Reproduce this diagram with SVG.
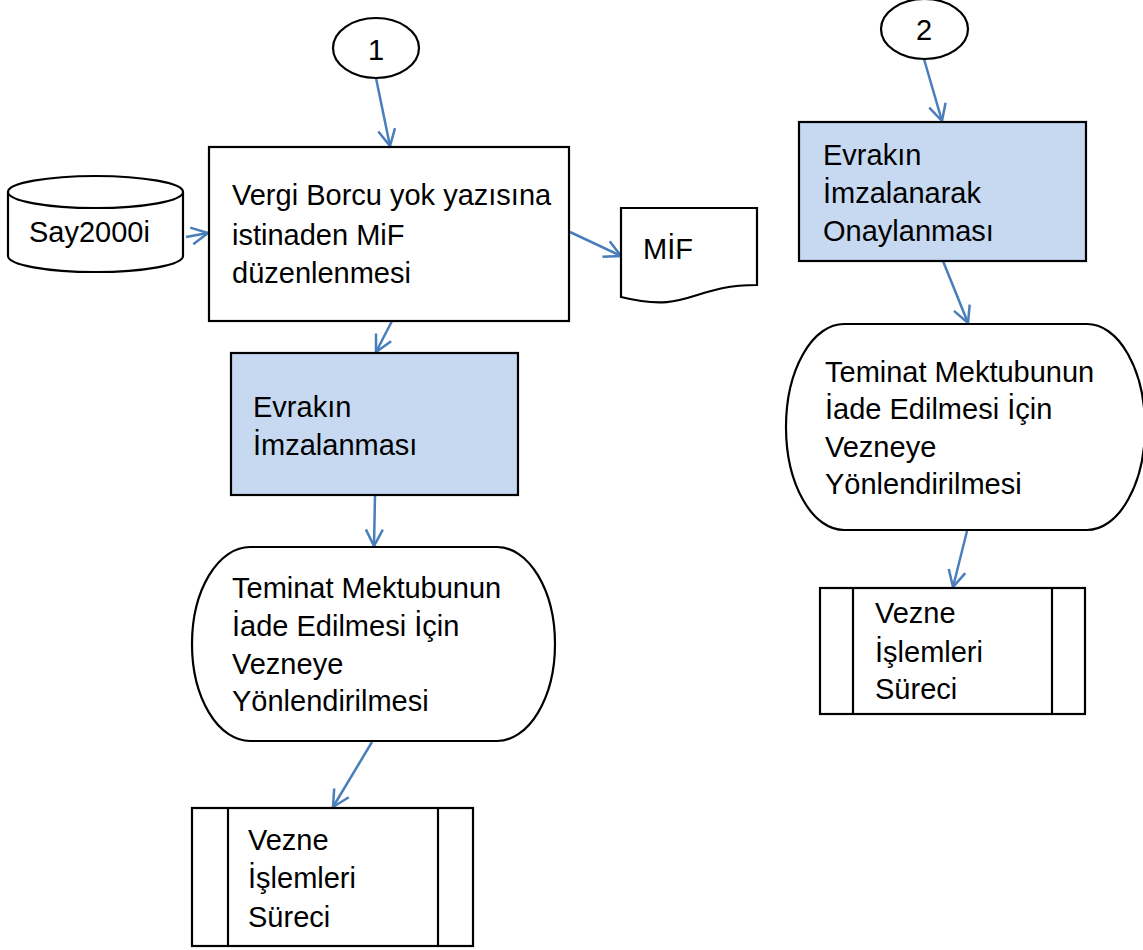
<svg xmlns="http://www.w3.org/2000/svg" width="1143" height="950" viewBox="0 0 1143 950">
<defs>
<style>
.s{fill:#fff;stroke:#000;stroke-width:2.2}
.b{fill:#c6d9f1;stroke:#000;stroke-width:2.2}
.t{font-family:"Liberation Sans",Arial,sans-serif;font-size:29px;fill:#000}
.c{fill:none;stroke:#4a7ebb;stroke-width:2.5}
</style>
<marker id="ah" viewBox="0 0 19 20" refX="17.5" refY="10" markerWidth="19" markerHeight="20" markerUnits="userSpaceOnUse" orient="auto">
<path d="M1,1.5 L17.5,10 L1,18.5" fill="none" stroke="#4a7ebb" stroke-width="2.5"/>
</marker>
</defs>
<rect width="1143" height="950" fill="#fff"/>

<g id="connectors">
<line class="c" x1="376" y1="78" x2="390" y2="146" marker-end="url(#ah)"/>
<line class="c" x1="186" y1="237" x2="208" y2="233" marker-end="url(#ah)"/>
<line class="c" x1="570" y1="232" x2="621" y2="256" marker-end="url(#ah)"/>
<line class="c" x1="392" y1="321" x2="376" y2="352" marker-end="url(#ah)"/>
<line class="c" x1="375" y1="496" x2="374" y2="546" marker-end="url(#ah)"/>
<line class="c" x1="372" y1="742" x2="333" y2="807" marker-end="url(#ah)"/>
<line class="c" x1="924" y1="59" x2="942" y2="121" marker-end="url(#ah)"/>
<line class="c" x1="943" y1="261" x2="968" y2="323" marker-end="url(#ah)"/>
<line class="c" x1="967" y1="531" x2="953" y2="587" marker-end="url(#ah)"/>
</g>

<g id="start1">
<ellipse class="s" cx="376" cy="48" rx="43" ry="30"/>
<text class="t" x="376" y="60" text-anchor="middle">1</text>
</g>

<g id="say2000i">
<path class="s" d="M8,192 A87.5,16 0 0 1 183,192 V256 A87.5,16 0 0 1 8,256 Z"/>
<path class="s" d="M8,192 A87.5,16 0 0 0 183,192" fill="none"/>
<text class="t" x="29" y="242">Say2000i</text>
</g>

<g id="mif-duzenle">
<rect class="s" x="209" y="147" width="360" height="174"/>
<text class="t" x="232" y="205">Vergi Borcu yok yazısına</text>
<text class="t" x="232" y="245">istinaden MiF</text>
<text class="t" x="232" y="283">düzenlenmesi</text>
</g>

<g id="mif-doc">
<path class="s" d="M621,208 H757 V285 C690,285 690,314 621,297 Z"/>
<text class="t" x="643" y="259">MİF</text>
</g>

<g id="imzalanmasi">
<rect class="b" x="231" y="353" width="287" height="142"/>
<text class="t" x="253" y="417">Evrakın</text>
<text class="t" x="253" y="455">İmzalanması</text>
</g>

<g id="terminator1">
<rect class="s" x="192" y="547" width="363" height="194" rx="58" ry="97"/>
<text class="t" x="232" y="598">Teminat Mektubunun</text>
<text class="t" x="232" y="636">İade Edilmesi İçin</text>
<text class="t" x="232" y="674">Vezneye</text>
<text class="t" x="232" y="711">Yönlendirilmesi</text>
</g>

<g id="vezne1">
<rect class="s" x="192" y="808" width="281" height="138"/>
<line class="s" x1="228" y1="808" x2="228" y2="946"/>
<line class="s" x1="438" y1="808" x2="438" y2="946"/>
<text class="t" x="248" y="850">Vezne</text>
<text class="t" x="248" y="888">İşlemleri</text>
<text class="t" x="248" y="927">Süreci</text>
</g>

<g id="start2">
<ellipse class="s" cx="924.5" cy="29" rx="43.5" ry="30"/>
<text class="t" x="924" y="40" text-anchor="middle">2</text>
</g>

<g id="onaylanmasi">
<rect class="b" x="799" y="122" width="287" height="139"/>
<text class="t" x="823" y="165">Evrakın</text>
<text class="t" x="823" y="203">İmzalanarak</text>
<text class="t" x="823" y="241">Onaylanması</text>
</g>

<g id="terminator2">
<rect class="s" x="786" y="324" width="359" height="206" rx="58" ry="103"/>
<text class="t" x="825" y="382">Teminat Mektubunun</text>
<text class="t" x="825" y="419">İade Edilmesi İçin</text>
<text class="t" x="825" y="457">Vezneye</text>
<text class="t" x="825" y="494">Yönlendirilmesi</text>
</g>

<g id="vezne2">
<rect class="s" x="820" y="588" width="265" height="126"/>
<line class="s" x1="853" y1="588" x2="853" y2="714"/>
<line class="s" x1="1052" y1="588" x2="1052" y2="714"/>
<text class="t" x="875" y="623">Vezne</text>
<text class="t" x="875" y="662">İşlemleri</text>
<text class="t" x="875" y="699">Süreci</text>
</g>
</svg>
